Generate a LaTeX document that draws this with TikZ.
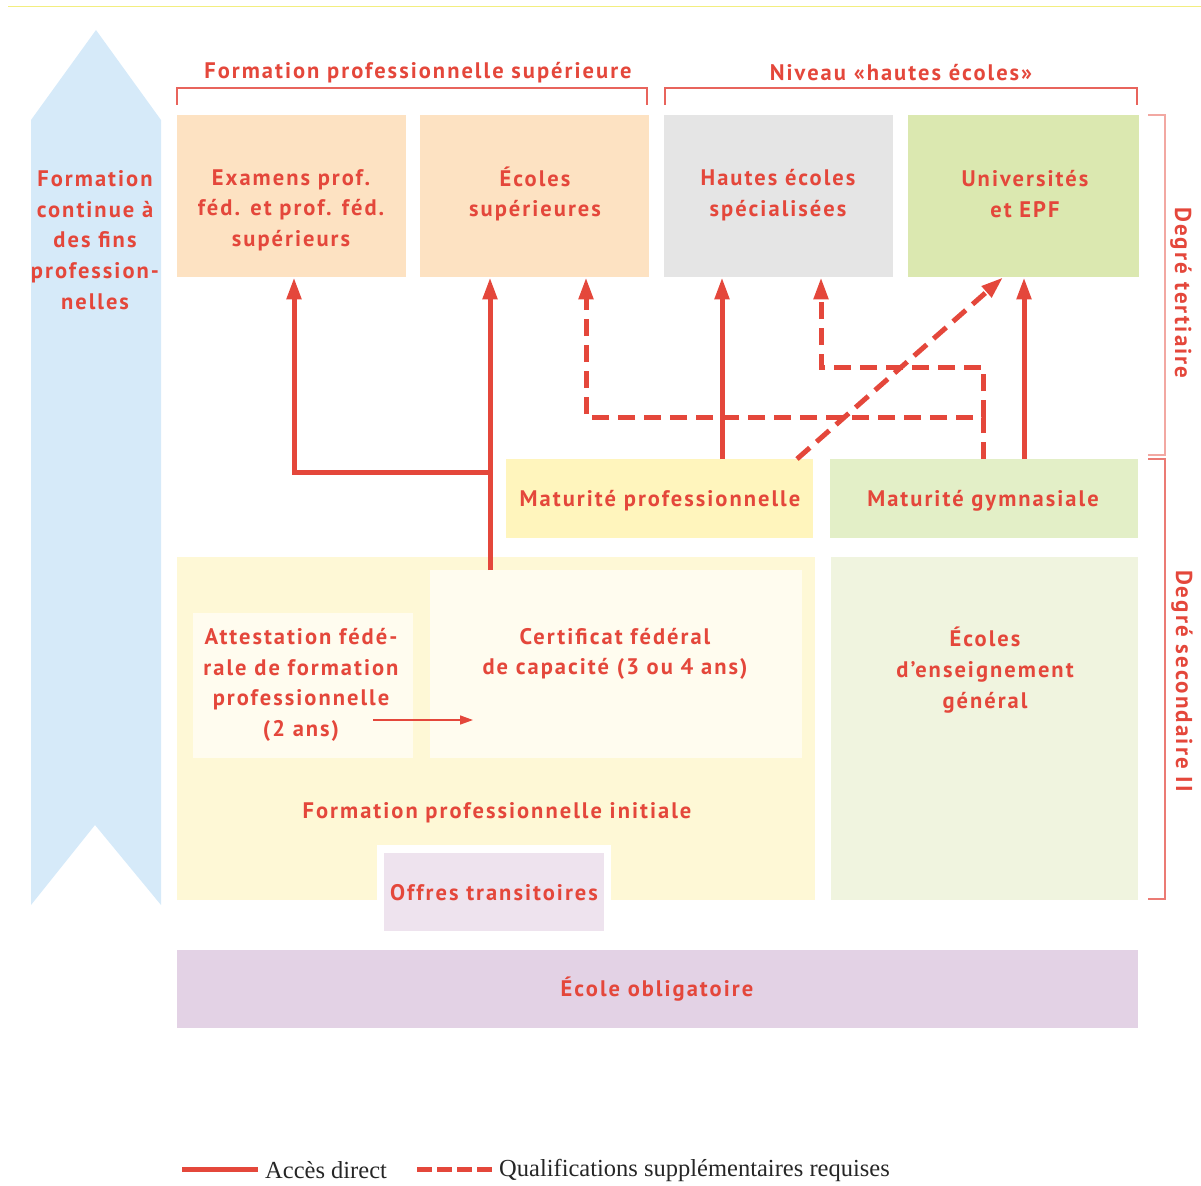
\documentclass[tikz,border=0pt]{standalone}
\usepackage{fontspec}
\setmainfont{PT Sans}
\newfontfamily\lblfont[LetterSpace=9]{PT Sans}
\newfontfamily\legendfont{Liberation Serif}
\usetikzlibrary{arrows.meta}
\definecolor{tred}{HTML}{E4473B}
\definecolor{bred}{HTML}{E8645C}
\definecolor{bredlight}{HTML}{F2A8A2}
\definecolor{peach}{HTML}{FDE2C2}
\definecolor{hesgray}{HTML}{E5E5E5}
\definecolor{unigreen}{HTML}{DBE8B0}
\definecolor{matpro}{HTML}{FFF5BD}
\definecolor{matgym}{HTML}{E3EFC7}
\definecolor{fpi}{HTML}{FEF8D6}
\definecolor{inner}{HTML}{FFFCEF}
\definecolor{ecg}{HTML}{F0F4DF}
\definecolor{offres}{HTML}{EEE3EE}
\definecolor{oblig}{HTML}{E3D2E5}
\definecolor{fcblue}{HTML}{D6EAF9}
\definecolor{topline}{HTML}{F3EE80}
\begin{document}
\begin{tikzpicture}[x=1pt,y=-1pt,
  box/.style={draw=none, inner sep=0pt, anchor=north west},
  lbl/.style={text=tred, font=\lblfont\fontsize{22.5}{30.6}\selectfont\bfseries, align=center, inner sep=0pt},
  deg/.style={text=tred, font=\lblfont\fontsize{23}{24}\selectfont\bfseries, rotate=-90, inner sep=0pt},
  acc/.style={draw=tred, line width=5pt, -{Triangle[length=22pt,width=14pt]}},
  qual/.style={acc, dash pattern=on 17pt off 9pt},
  bracket/.style={draw=bred, line width=1.3pt},
  legtext/.style={anchor=west, inner sep=0pt, text=black!85, font=\legendfont\fontsize{24.5}{26}\selectfont},
]
\useasboundingbox (0,0) rectangle (1201,1185);
\draw[topline, line width=1pt] (8,7) -- (1201,7);

% left arrow
\fill[fcblue] (31,120) -- (96,30) -- (161,120) -- (161,905) -- (95,825) -- (31,905) -- cycle;
\node[lbl] (fc) at (95,240) {Formation\\continue à\\des fins\\profession-\\nelles};

% top brackets
\node[lbl] (fps) at (418,73) {Formation professionnelle supérieure};
\draw[bracket] (177,105) -- (177,88) -- (647,88) -- (647,105);
\node[lbl] (nhe) at (901,73) {Niveau «hautes écoles»};
\draw[bracket] (665,105) -- (665,88) -- (1137,88) -- (1137,105);

% tertiary boxes
\node[box, fill=peach, minimum width=229pt, minimum height=162pt] (exam) at (177,115) {};
\node[lbl] (examT) at (291,210) {Examens prof.\\féd. et prof. féd.\\supérieurs};
\node[box, fill=peach, minimum width=229pt, minimum height=162pt] (ecsup) at (420,115) {};
\node[lbl] (ecsupT) at (535,194) {Écoles\\supérieures};
\node[box, fill=hesgray, minimum width=229pt, minimum height=162pt] (hes) at (664,115) {};
\node[lbl] (hesT) at (778,195) {Hautes écoles\\spécialisées};
\node[box, fill=unigreen, minimum width=231pt, minimum height=162pt] (uni) at (908,115) {};
\node[lbl] (uniT) at (1025,194) {Universités\\et EPF};

% maturités
\node[box, fill=matpro, minimum width=307pt, minimum height=79pt] (mpro) at (506,459) {};
\node[lbl] (mproT) at (660,501) {Maturité professionnelle};
\node[box, fill=matgym, minimum width=308pt, minimum height=79pt] (mgym) at (830,459) {};
\node[lbl] (mgymT) at (983,501) {Maturité gymnasiale};

% secondary II
\node[box, fill=fpi, minimum width=638pt, minimum height=343pt] (fpib) at (177,557) {};
\node[box, fill=inner, minimum width=220pt, minimum height=145pt] (att) at (193,613) {};
\node[lbl] (attT) at (301,685) {Attestation fédé-\\rale de formation\\professionnelle\\(2 ans)};
\node[box, fill=inner, minimum width=372pt, minimum height=188pt] (cert) at (430,570) {};
\node[lbl] (certT) at (615,654) {Certificat fédéral\\de capacité (3 ou 4 ans)};
\node[lbl] (fpiT) at (497,813) {Formation professionnelle initiale};
\node[box, fill=white, minimum width=234pt, minimum height=60pt] (offw) at (377,845) {};
\node[box, fill=offres, minimum width=220pt, minimum height=78pt] (off) at (384,853) {};
\node[lbl] (offT) at (494,893) {Offres transitoires};
\node[box, fill=ecg, minimum width=307pt, minimum height=343pt] (ecgb) at (831,557) {};
\node[lbl] (ecgT) at (985,670) {Écoles\\d’enseignement\\général};

% école obligatoire
\node[box, fill=oblig, minimum width=961pt, minimum height=78pt] (obl) at (177,950) {};
\node[lbl] (oblT) at (657,989) {École obligatoire};

% right brackets
\draw[bracket, draw=bredlight] (1148,115) -- (1165,115) -- (1165,455) -- (1148,455);
\node[deg] (dt) at (1181,293) {Degré tertiaire};
\draw[bracket, draw=bred!85] (1148,459) -- (1165,459) -- (1165,899) -- (1148,899);
\node[deg] (ds) at (1182,681) {Degré secondaire II};

% arrows
\draw[acc] (490,0 |- cert.north) -- (490,0 |- ecsup.south);
\draw[acc, line join=miter] (490,472) -- (294,472) -- (294,0 |- exam.south);
\draw[acc] (722,0 |- mpro.north) -- (722,0 |- hes.south);
\draw[acc] (1024,0 |- mgym.north) -- (1024,0 |- uni.south);
\draw[qual, line join=miter] (983,0 |- mgym.north) -- (983,417) -- (586,417) -- (586,0 |- ecsup.south);
\draw[qual, line join=miter] (983,417) -- (983,367) -- (821,367) -- (821,0 |- hes.south);
\draw[qual] (797,0 |- mpro.north) -- (1003,0 |- uni.south);
\draw[draw=tred, line width=1.5pt, -{Triangle[length=13pt,width=9pt]}] (373,720) -- (473,720);

% legend
\draw[tred, line width=5pt] (182,1169) -- (258,1169);
\node[legtext] (l1) at (265,1170) {Accès direct};
\draw[tred, line width=5pt, dash pattern=on 15pt off 5pt] (417,1169) -- (492,1169);
\node[legtext] (l2) at (499,1170) {Qualifications supplémentaires requises};
\end{tikzpicture}
\end{document}
